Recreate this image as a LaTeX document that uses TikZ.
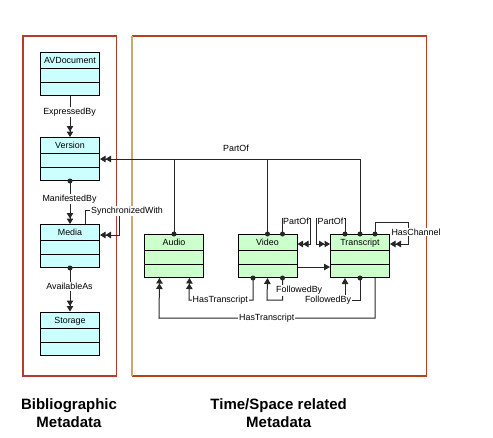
\documentclass[tikz,border=0pt]{standalone}
\usepackage{fontspec}
\setmainfont{Liberation Sans}
\usetikzlibrary{arrows.meta,calc}
\definecolor{cyanfill}{HTML}{CCFFFF}
\definecolor{greenfill}{HTML}{CCFFCC}
\definecolor{leftframe}{HTML}{B83A2E}
\definecolor{rightframe}{HTML}{B8401A}
\definecolor{tanframe}{HTML}{C8AA70}
\definecolor{linkcol}{HTML}{262626}
\begin{document}
\begin{tikzpicture}[x=1pt,y=-1pt,
  cls/.style={draw=black, line width=1pt, minimum width=59pt, inner xsep=0pt, inner ysep=0pt,
    text height=11pt, text depth=32pt, anchor=north west, font=\fontsize{8.9}{10}\selectfont,
    path picture={\draw[line width=1pt]
      ([yshift=-16pt]path picture bounding box.north west) -- ([yshift=-16pt]path picture bounding box.north east)
      ([yshift=-30pt]path picture bounding box.north west) -- ([yshift=-30pt]path picture bounding box.north east);}},
  biblio/.style={cls, fill=cyanfill},
  timecls/.style={cls, fill=greenfill},
  link/.style={draw=linkcol, line width=1pt},
  dbl/.style={link, -{Triangle[length=5.5pt,width=6.5pt]Triangle[length=5.5pt,width=6.5pt]}},
  sgl/.style={link, -{Triangle[length=6pt,width=6.5pt]}},
  lbl/.style={fill=white, inner xsep=1pt, inner ysep=1pt, font=\fontsize{8.9}{10}\selectfont},
  freelbl/.style={inner sep=0pt, font=\fontsize{8.9}{10}\selectfont},
  title/.style={align=center, font=\fontsize{15}{18}\selectfont\bfseries, inner sep=0pt},
  frameline/.style={line width=1.3pt}
]
\useasboundingbox (0,0) rectangle (493,437);

% frames
\draw[frameline, leftframe] (23,36) rectangle (116.5,376);
\draw[frameline, rightframe] (132,36) -- (426.5,36) -- (426.5,376) -- (132,376);
\draw[frameline, tanframe] (132,36) -- (132,376);

% class boxes
\node[biblio] (avdoc) at (40,52) {AVDocument};
\node[biblio] (version) at (40,137) {Version};
\node[biblio] (media) at (40,224) {Media};
\node[biblio] (storage) at (40,311.5) {Storage};
\node[timecls] (audio) at (144,234) {Audio};
\node[timecls] (video) at (237.5,234) {Video};
\node[timecls] (transcript) at (330,234) {Transcript};

% coordinates for loops
\coordinate (swc) at (119,210);
\coordinate (vpo) at (310,218);
\coordinate (tpo) at (316,218);
\coordinate (hch) at (408,222.5);
\coordinate (htin) at (189,300);
\coordinate (vfb) at (267,300);
\coordinate (tfb) at (345,300);
\coordinate (htout) at (159,318);

% bibliographic chain
\draw[dbl] (avdoc.south) -- (version.north);
\draw[dbl] (version.south) -- (media.north);
\fill[linkcol] (version.south) circle (2.5pt);
\draw[dbl] (media.south) -- (storage.north);
\fill[linkcol] (media.south) circle (2.5pt);

% SynchronizedWith
\draw[dbl] ([xshift=15.5pt]media.north) |- (swc) |- ([yshift=-11pt]media.north east);

% PartOf to Version
\draw[dbl] (transcript.north) |- (version.east);
\draw[link] (audio.north) -- (audio.north |- version.east);
\draw[link] (video.north) -- (video.north |- version.east);
\fill[linkcol] (audio.north) circle (2.5pt) (video.north) circle (2.5pt) (transcript.north) circle (2.5pt);

% Video PartOf loop
\draw[dbl] ([xshift=15pt]video.north) |- (vpo) |- ([yshift=-10pt]video.north east);
\fill[linkcol] ([xshift=15pt]video.north) circle (2.5pt);
% Transcript PartOf loop
\draw[dbl] ([xshift=-15pt]transcript.north) |- (tpo) |- ([yshift=-10pt]transcript.north west);
\fill[linkcol] ([xshift=-15pt]transcript.north) circle (2.5pt);
% HasChannel loop
\draw[dbl] ([xshift=15pt]transcript.north) |- (hch) |- ([yshift=-10pt]transcript.north east);
\fill[linkcol] ([xshift=15pt]transcript.north) circle (2.5pt);

% Video -> Transcript
\draw[sgl] ([yshift=-33pt]video.north east) -- ([yshift=-33pt]transcript.north west);

% HasTranscript (inner)
\draw[dbl] ([xshift=-14.5pt]video.south) |- (htin) -- ([xshift=15.5pt]audio.south);
\fill[linkcol] ([xshift=-14.5pt]video.south) circle (2.5pt);
% Video FollowedBy
\draw[sgl] ([xshift=15pt]video.south) |- (vfb) -- (video.south);
\fill[linkcol] ([xshift=15pt]video.south) circle (2.5pt);
% Transcript FollowedBy
\draw[sgl] (transcript.south) |- (tfb) -- ([xshift=-15pt]transcript.south);
\fill[linkcol] (transcript.south) circle (2.5pt);
% HasTranscript (outer)
\draw[dbl] ([xshift=15pt]transcript.south) |- (htout) -- ([xshift=-14.5pt]audio.south);

% labels
\node[lbl] (l1) at (69.5,112) {ExpressedBy};
\node[lbl] (l2) at (69.5,199) {ManifestedBy};
\node[lbl] (l3) at (69.5,286.5) {AvailableAs};
\node[lbl, anchor=west] (l4) at (90,211) {SynchronizedWith};
\node[freelbl] (l5) at (236,148) {PartOf};
\node[lbl, inner xsep=0.3pt] (l6) at (296,221) {PartOf};
\node[lbl, inner xsep=0.3pt] (l7) at (330.5,221) {PartOf};
\node[lbl] (l8) at (416,232) {HasChannel};
\node[lbl, anchor=west] (l9) at (191.5,300.5) {HasTranscript};
\node[lbl] (l10) at (299.2,290.5) {FollowedBy};
\node[lbl] (l11) at (328,300.5) {FollowedBy};
\node[lbl] (l12) at (266.7,318.5) {HasTranscript};

% titles
\node[title] (t1) at (69,413.5) {Bibliographic\\Metadata};
\node[title] (t2) at (278.7,413.5) {Time/Space related\\Metadata};
\end{tikzpicture}
\end{document}
